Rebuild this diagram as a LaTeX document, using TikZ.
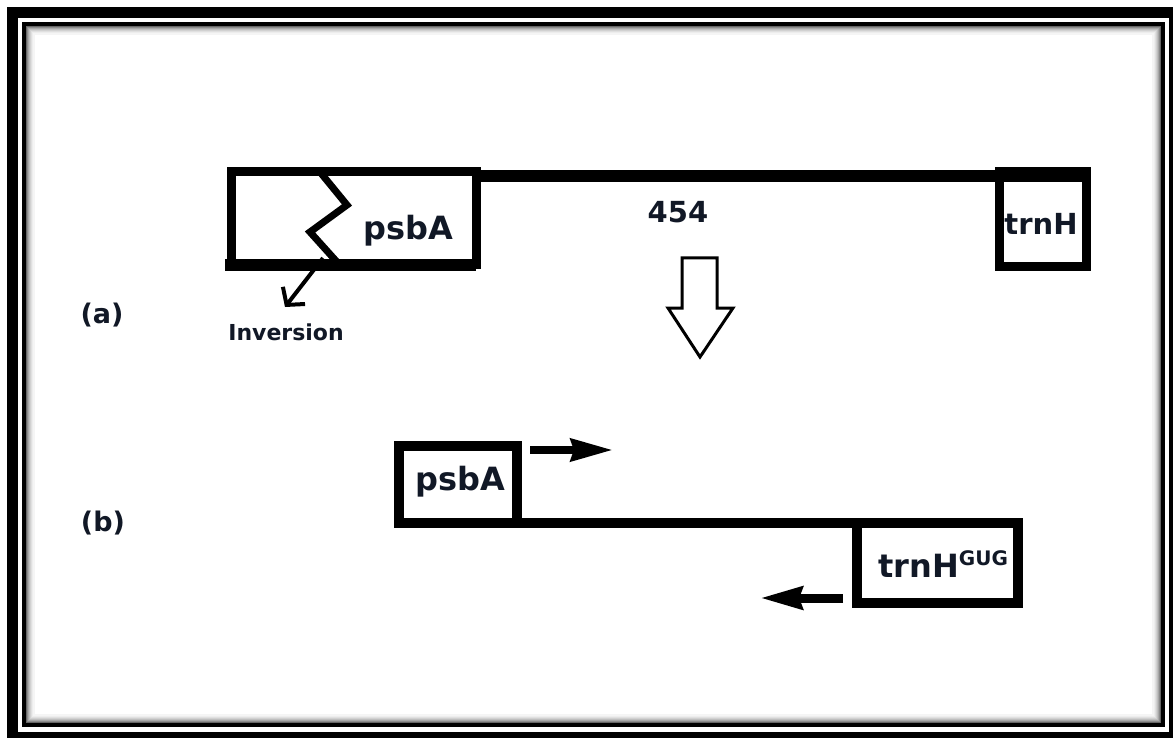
\documentclass[tikz,border=0pt]{standalone}
\usepackage{fontspec}
\setmainfont{DejaVu Sans}
\usepackage{xcolor}
\usetikzlibrary{arrows.meta,positioning}
\definecolor{ink}{HTML}{111826}

\begin{document}
\begin{tikzpicture}[x=1pt,y=-1pt,
  gene/.style={draw,line width=9pt,inner sep=0pt,outer sep=0pt},
  lbl/.style={font=\fontsize{32}{36}\selectfont\bfseries,text=ink,inner sep=0pt,anchor=base},
  tag/.style={font=\fontsize{27}{30}\selectfont\bfseries,text=ink,inner sep=0pt,anchor=base},
  ar/.style={line width=8pt,-{Stealth[length=42pt,width=22pt,inset=3pt]}}]
% frame
\useasboundingbox (0,0) rectangle (1173,738);
\fill[white] (0,0) rectangle (1173,738);
\fill[black] (7,7) rectangle (1173,738);
\fill[white] (18,18) rectangle (1169,732);
\draw[line width=4pt] (24,24) rectangle (1163,725);
\foreach \i/\g in {3/60,4/45,5/34,6/25,7/18,8/12,9/7,10/4}
  \draw[black!\g,line width=1.2pt] (24+\i,24+\i) rectangle (1163-\i,725-\i);

% (a) before
\node[gene,minimum width=245pt,minimum height=93pt] (pa) at (353.5,218.5) {};
\node[gene,minimum width=87pt,minimum height=95pt] (ta) at (1042.5,219.5) {};
\draw[line width=12pt] ([yshift=-4pt]pa.north east) -- ([xshift=4.5pt,yshift=-4pt]ta.north east);
\draw[line width=12pt] ([xshift=-6pt]pa.south west) -- (pa.south east);
\node[lbl] (pal) at (408,240) {psbA};
\node[lbl,font=\fontsize{29}{32}\selectfont\bfseries] (tal) at (1041,235) {trnH};
\node[lbl,font=\fontsize{29}{32}\selectfont\bfseries] (len) at (678,223) {454};
\draw[line width=7pt,line join=miter] (320,172) -- (347,205) -- (310,232) -- (337,262);
\coordinate (zb) at (323,258);
\coordinate (inv) at (285,307);
\draw[line width=4pt,-{Straight Barb[length=12pt,width=28pt]}] (zb) -- (inv);
\node[lbl,font=\fontsize{22}{24}\selectfont\bfseries] (invl) at (286,340) {Inversion};
\node[tag] (la) at (102,323) {(a)};

% hollow arrow
\draw[line width=3pt,line join=miter] (682,258) -- (717,258) -- (717,308) -- (733,308)
  -- (700,357) -- (668,308) -- (682,308) -- cycle;

% (b) after
\node[gene,line width=10pt,minimum width=118pt,minimum height=77pt] (pb) at (458,484.5) {};
\node[gene,line width=10pt,minimum width=161pt,minimum height=80pt] (tb) at (937.5,563) {};
\draw[line width=10pt] (pb.south east) -- (tb.north west);
\node[lbl] (pbl) at (460,490) {psbA};
\node[lbl,anchor=base west] (tbl) at (878,577) {trnH\raisebox{12pt}{\fontsize{20}{22}\selectfont GUG}};
\coordinate (f0) at (530,450);
\coordinate (f1) at (613,450);
\draw[ar] (f0) -- (f1);
\coordinate (r0) at (843,598);
\coordinate (r1) at (760,598);
\draw[ar,line width=9pt] (r0) -- (r1);
\node[tag] (lb) at (103,531) {(b)};
\end{tikzpicture}
\end{document}
